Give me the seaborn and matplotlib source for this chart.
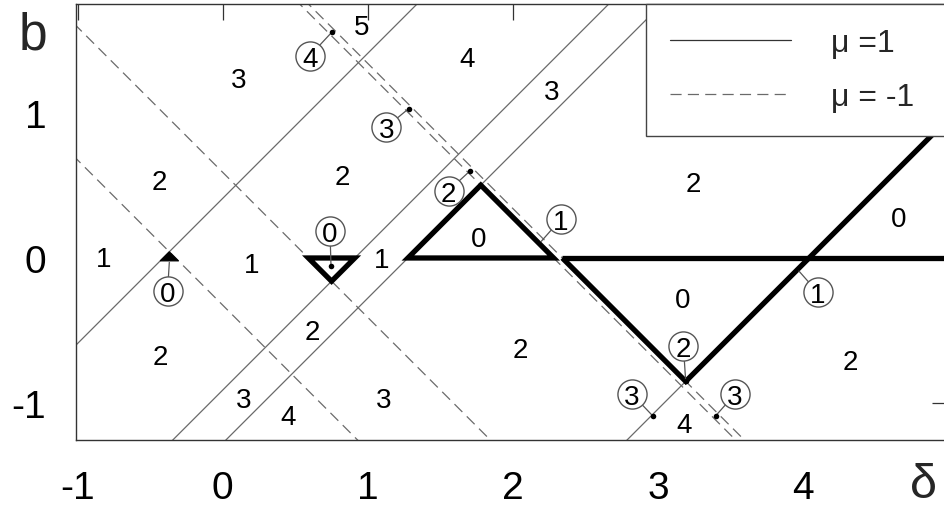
import numpy as np
import pandas as pd
import matplotlib
matplotlib.use("Agg")
import matplotlib.pyplot as plt
from matplotlib.lines import Line2D
from matplotlib.patches import Polygon
import seaborn as sns

sns.set_theme(style="white")
plt.rcParams["font.family"] = ["Liberation Sans", "DejaVu Sans"]
plt.rcParams["lines.scale_dashes"] = False

# mu = 1 family: b = delta - c
mu_pos_offsets = [-0.411, 0.91, 1.276, 4.04]
# mu = -1 family: b = c - delta
mu_neg_offsets = [-0.325, 0.59, 2.28, 2.34]

x_ticks = [-1, 0, 1, 2, 3, 4]
y_ticks = [-1, 0, 1]

# number of solutions in each region
region_text = ["3", "5", "4", "3", "2", "2", "2", "0", "0", "1", "1",
               "1", "0", "2", "2", "2", "2", "3", "4", "3", "4"]
region_delta = [0.107, 0.958, 1.683, 2.269, -0.437, 0.821, 3.241, 4.66,
                1.763, -0.823, 0.200, 1.097, 3.166, -0.432, 0.614, 2.05,
                4.326, 0.142, 0.453, 1.108, 3.177]
region_b = [1.245, 1.614, 1.395, 1.166, 0.544, 0.579, 0.533, 0.292,
            0.154, 0.016, -0.03, 0.005, -0.271, -0.662, -0.49, -0.616,
            -0.697, -0.961, -1.076, -0.961, -1.133]

# circled counts with leaders pointing at boundary points
callout_text = ["4", "3", "2", "1", "0", "0", "1", "2", "3", "3"]
callout_delta = [0.601, 1.126, 1.556, 2.331, 0.739, -0.38, 4.10, 3.174, 2.82, 3.53]
callout_b = [1.394, 0.901, 0.464, 0.269, 0.188, -0.225, -0.237, -0.604, -0.938, -0.937]
target_delta = [0.751, 1.28, 1.706, 2.195, 0.746, -0.368, 3.97, 3.19, 2.963, 3.396]
target_b = [1.555, 1.028, 0.602, 0.115, -0.057, -0.03, -0.09, -0.85, -1.088, -1.088]
target_dot = [True, True, True, False, True, False, False, True, True, True]


def cross(cp, cn):
    """Intersection of b = delta - cp with b = cn - delta."""
    d = (cp + cn) / 2.0
    return d, d - cp


fig = plt.figure(figsize=(9.44, 5.06), dpi=100)
ax = fig.add_axes([76 / 944, 65.3 / 506, 872.4 / 944, 435.7 / 506])

# thin families of lines
rows = []
for i, c in enumerate(mu_pos_offsets):
    for d in (-1.6, 6.0):
        rows.append({"delta": d, "b": d - c, "line": f"p{i}", "family": "μ =1"})
for i, c in enumerate(mu_neg_offsets):
    for d in (-1.6, 6.0):
        rows.append({"delta": d, "b": c - d, "line": f"n{i}", "family": "μ = -1"})
lines_df = pd.DataFrame(rows)

dash_spec = (8.0, 4.5)
sns.lineplot(data=lines_df, x="delta", y="b", units="line", estimator=None,
             style="family", dashes={"μ =1": "", "μ = -1": dash_spec},
             color="#6a6a6a", lw=0.9, legend=False, ax=ax, zorder=1)

# thick boundaries of the zero-solution regions
thick = dict(color="black", lw=3.8, zorder=3)
p_left, p_mid, p_low, p_v = mu_pos_offsets
n_left, n_mid, n_a, n_b = mu_neg_offsets

big_tri = [(p_low, 0.0), cross(p_low, n_a), (n_a, 0.0)]
ax.add_patch(Polygon(big_tri, closed=True, fill=False, joinstyle="miter",
                     edgecolor="black", lw=3.8, zorder=3))

small_tri = [(n_mid, 0.0), (p_mid, 0.0), cross(p_mid, n_mid)]
ax.add_patch(Polygon(small_tri, closed=True, fill=False, joinstyle="miter",
                     edgecolor="black", lw=3.8, zorder=3))

tip = cross(p_left, n_left)
base_b = -0.02
filled_tri = [(base_b + p_left, base_b), (n_left - base_b, base_b), tip]
ax.add_patch(Polygon(filled_tri, closed=True, facecolor="black",
                     edgecolor="black", lw=0.8, zorder=3))

ax.plot([n_b, 5.2], [0.0, 0.0], solid_capstyle="butt", **thick)
v_tip = cross(p_v, n_b)
ax.plot([n_b, v_tip[0], 6.0], [0.0, v_tip[1], 6.0 - p_v],
        solid_joinstyle="miter", solid_capstyle="butt", **thick)

# region counts
for t, d, b in zip(region_text, region_delta, region_b):
    ax.text(d, b, t, fontsize=20, ha="center", va="center_baseline",
            color="black", zorder=4)

# circled counts
for t, d, b, td, tb, dot in zip(callout_text, callout_delta, callout_b,
                                target_delta, target_b, target_dot):
    ax.plot([d, td], [b, tb], color="#555555", lw=0.9, zorder=5)
    if dot:
        ax.scatter([td], [tb], s=16, color="black", zorder=6, linewidths=0)
ax.scatter(callout_delta, callout_b, s=440, facecolor="white",
           edgecolor="#555555", linewidths=1.0, zorder=6)
for t, d, b in zip(callout_text, callout_delta, callout_b):
    ax.text(d, b, t, fontsize=20, ha="center", va="center_baseline",
            color="black", zorder=7)

ax.set_xlim(-1.011, 5.0)
ax.set_ylim(-1.252, 1.75)
ax.set_xticks(x_ticks)
ax.set_xticklabels([str(v) for v in x_ticks])
ax.set_yticks(y_ticks)
ax.set_yticklabels([str(v) for v in y_ticks])
ax.set_xlabel("")
ax.set_ylabel("")
ax.tick_params(direction="in", length=11.3, width=0.9, color="#333333",
               top=True, right=True, labelsize=28, labelcolor="black")
ax.tick_params(axis="x", pad=22)
ax.tick_params(axis="y", pad=21.5)
for s in ax.spines.values():
    s.set_color("#333333")
    s.set_linewidth(1.0)

ax.text(-1.307, 1.44, "b", fontsize=37, ha="center", va="baseline",
        clip_on=False)
ax.text(4.83, -1.647, "δ", fontsize=35, ha="center", va="baseline",
        clip_on=False)

handles = [Line2D([], [], color="#333333", lw=0.9),
           Line2D([], [], color="#6a6a6a", lw=0.9, dashes=dash_spec)]
leg = ax.legend(handles, ["μ =1", "μ = -1"], loc="upper right",
                bbox_to_anchor=(0.653, 0.0, 0.347, 1.0), mode="expand",
                borderaxespad=0.0, fontsize=23, frameon=True, fancybox=False,
                framealpha=1.0, facecolor="white", edgecolor="#444444",
                handlelength=3.8, handletextpad=1.25, labelspacing=0.75,
                borderpad=0.75)
leg.get_frame().set_linewidth(1.0)
leg.set_zorder(10)

fig.savefig("out.png", dpi=100)
